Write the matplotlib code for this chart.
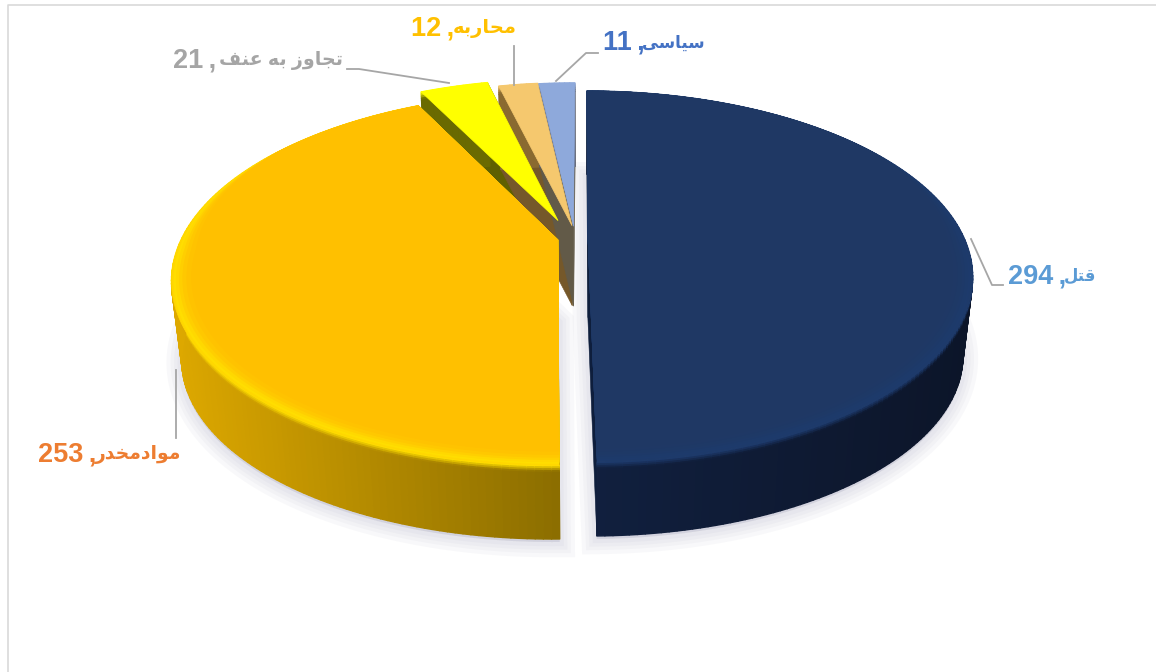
import matplotlib
matplotlib.use("Agg")
import matplotlib.pyplot as plt, numpy as np
from matplotlib.collections import PolyCollection
from matplotlib.colors import to_rgb
from matplotlib.patches import Polygon

names = ["قتل", "موادمخدر", "تجاوز به عنف", "محاربه", "سیاسی"]
values = [294, 253, 21, 12, 11]

top_colors = ["#1F3864", "#FFC000", "#FFFF00", "#F5C86E", "#8EA9DB"]
rim_colors = ["#1D3A6C", "#FFDE00", "#FFFF00", "#F5C86E", "#8EA9DB"]
side_left = ["#11203F", "#DDA800", "#6A6A00", "#8A6A30", "#5A5F70"]
side_right = ["#0C1529", "#8C6E00", "#6A6A00", "#8A6A30", "#5A5F70"]
wall_colors = ["#0E1E3C", "#8C6E00", "#5F6000", "#75582A", "#625A48"]
label_colors = ["#5B9BD5", "#ED7D31", "#A5A5A5", "#FFC000", "#4472C4"]

# how far each slice is pulled out, in pie radii
pull_x = [0.016, -0.064, -0.065, -0.027, -0.023]
pull_y = [0.0, -0.011, 0.10, 0.07, 0.067]

leaders = [
    [(971, 239), (992, 285), (1003, 285)],
    [(176, 370), (176, 438)],
    [(449, 83), (359, 69), (347, 69)],
    [(514, 85), (514, 46)],
    [(556, 81), (586, 53), (598, 53)],
]
# left end of the number, right end of the word, middle height
label_left = [1008, 38, 173, 411, 603]
label_right = [1096, 181, 343, 517, 705]
label_y = [276, 455, 61, 29, 43]
word_size = [12, 13.5, 13.7, 14, 12]

CX, CY = 582, 238
R, RK, P = 376, 177.5, 0.2076
DEPTH, SHRINK = 79.6, 0.025

# isolated, final, initial, medial
FORMS = {
    "ا": "\uFE8D\uFE8E\uFE8D\uFE8E", "ب": "\uFE8F\uFE90\uFE91\uFE92",
    "ت": "\uFE95\uFE96\uFE97\uFE98", "ج": "\uFE9D\uFE9E\uFE9F\uFEA0",
    "ح": "\uFEA1\uFEA2\uFEA3\uFEA4", "خ": "\uFEA5\uFEA6\uFEA7\uFEA8",
    "د": "\uFEA9\uFEAA\uFEA9\uFEAA", "ر": "\uFEAD\uFEAE\uFEAD\uFEAE",
    "ز": "\uFEAF\uFEB0\uFEAF\uFEB0", "س": "\uFEB1\uFEB2\uFEB3\uFEB4",
    "ع": "\uFEC9\uFECA\uFECB\uFECC", "ف": "\uFED1\uFED2\uFED3\uFED4",
    "ق": "\uFED5\uFED6\uFED7\uFED8", "ل": "\uFEDD\uFEDE\uFEDF\uFEE0",
    "م": "\uFEE1\uFEE2\uFEE3\uFEE4", "ن": "\uFEE5\uFEE6\uFEE7\uFEE8",
    "ه": "\uFEE9\uFEEA\uFEEB\uFEEC", "و": "\uFEED\uFEEE\uFEED\uFEEE",
    "ی": "\uFBFC\uFBFD\uFBFE\uFBFF",
}
NO_JOIN_AFTER = "ادرزو"


def shape(text):
    # matplotlib does not join arabic letters, so pick the forms here
    out = []
    for i, ch in enumerate(text):
        if ch not in FORMS:
            out.append(ch)
            continue
        before = i > 0 and text[i - 1] in FORMS and text[i - 1] not in NO_JOIN_AFTER
        after = i < len(text) - 1 and text[i + 1] in FORMS and ch not in NO_JOIN_AFTER
        if before and after:
            out.append(FORMS[ch][3])
        elif after:
            out.append(FORMS[ch][2])
        elif before:
            out.append(FORMS[ch][1])
        else:
            out.append(FORMS[ch][0])
    return "".join(out)[::-1]


def project(X, Y, z=0.0):
    X, Y = np.asarray(X, float), np.asarray(Y, float)
    s = 1 / (1 + P * Y)
    x = CX + R * X * s
    y = CY - RK * Y * s
    k = 1 - SHRINK * z
    return CX + (x - CX) * k, CY + DEPTH * z + (y - CY) * k


def mix(a, b, t):
    return tuple((1 - t) * np.array(to_rgb(a)) + t * np.array(to_rgb(b)))


fig = plt.figure(figsize=(11.56, 6.72), dpi=100)
ax = fig.add_axes([0, 0, 1, 1])
ax.set_xlim(0, 1156)
ax.set_ylim(672, 0)
ax.axis("off")

ax.plot([8, 8, 1156], [672, 5, 5], color="#D9D9D9", lw=1.2)

edges = np.cumsum([0] + values) / sum(values) * 2 * np.pi
zorder = [2]


def next_z():
    zorder[0] += 1
    return zorder[0]


def arc(i):
    a0, a1 = edges[i], edges[i + 1]
    return np.linspace(a0, a1, max(8, int(np.degrees(a1 - a0))))


def draw_body(i):
    dx, dy = pull_x[i], pull_y[i]
    t = arc(i)

    # flat cut faces
    for a in (edges[i], edges[i + 1]):
        ex, ey = np.array([dx, dx + np.sin(a)]), np.array([dy, dy + np.cos(a)])
        x0, y0 = project(ex, ey)
        x1, y1 = project(ex, ey, 1.0)
        ax.add_patch(Polygon(np.c_[np.r_[x0, x1[::-1]], np.r_[y0, y1[::-1]]],
                             fc=wall_colors[i], ec=wall_colors[i], lw=0.4, zorder=next_z()))

    # outer side, shaded along the arc and lighter just under the rim
    levels = [0, 0.025, 0.05, 0.075, 0.1, 1.0]
    quads, shades = [], []
    x_ref = project(dx + np.sin(t), dy + np.cos(t))[0]
    xl, xr = x_ref.min(), x_ref.max()
    for n in range(len(t) - 1):
        frac = (x_ref[n] - xl) / max(xr - xl, 1)
        base = mix(side_left[i], side_right[i], frac)
        sx, sy = dx + np.sin(t[n:n + 2]), dy + np.cos(t[n:n + 2])
        for m in range(len(levels) - 1):
            px0, py0 = project(sx, sy, levels[m])
            px1, py1 = project(sx, sy, levels[m + 1])
            quads.append(np.c_[np.r_[px0, px1[::-1]], np.r_[py0, py1[::-1]]])
            shades.append(mix(rim_colors[i], base, min(1, levels[m] / 0.08)))
    ax.add_collection(PolyCollection(quads, facecolors=shades, edgecolors=shades, linewidths=1.0, zorder=next_z()))


def draw_top(i):
    dx, dy = pull_x[i], pull_y[i]
    t = arc(i)
    # big slices get a soft ridge along the near rim, the small ones are flat
    if i < 2:
        steps = [(1.0, 0.75), (0.994, 1.0), (0.988, 0.8), (0.98, 0.5), (0.972, 0.25), (0.962, 0.1), (0.95, 0.0)]
    else:
        steps = [(1.0, 0.0)]
    near = np.clip((0.55 - np.cos(t)) / 0.6, 0, 1)
    for r, amount in steps:
        rt = 1 - (1 - r) * near
        x, y = project(np.r_[dx, dx + rt * np.sin(t)], np.r_[dy, dy + rt * np.cos(t)])
        col = mix(top_colors[i], rim_colors[i], amount)
        ax.add_patch(Polygon(np.c_[x, y], fc=col, ec=col, lw=0.5, zorder=next_z()))


# soft shadow under the two big slices
for i in [0, 1]:
    t = arc(i)
    X = np.r_[pull_x[i], pull_x[i] + np.sin(t)]
    Y = np.r_[pull_y[i], pull_y[i] + np.cos(t)]
    x, y = project(X, Y, 1.0)
    for lw in (22, 16, 11, 6):
        ax.add_patch(Polygon(np.c_[x, y + 3], fc="#8888A8", ec="#8888A8", lw=lw, alpha=0.05, zorder=1))

# the three small slices stand behind, their tops go over all their walls
for i in [2, 3, 4]:
    draw_body(i)
for i in [2, 3, 4]:
    draw_top(i)
for i in [1, 0]:
    draw_body(i)
    draw_top(i)

for pts in leaders:
    pts = np.array(pts)
    ax.plot(pts[:, 0], pts[:, 1], color="#A6A6A6", lw=1.3, zorder=next_z())

font = ["Liberation Sans", "DejaVu Sans"]
for i in range(len(names)):
    ax.text(label_left[i], label_y[i], f"{values[i]}\u2009,", color=label_colors[i], fontsize=19.5, fontweight="bold",
            family=font, ha="left", va="center", zorder=next_z())
    ax.text(label_right[i], label_y[i], shape(names[i]), color=label_colors[i], fontsize=word_size[i], fontweight="bold",
            family=font, ha="right", va="center", zorder=next_z())

fig.savefig("out.png", dpi=100)
